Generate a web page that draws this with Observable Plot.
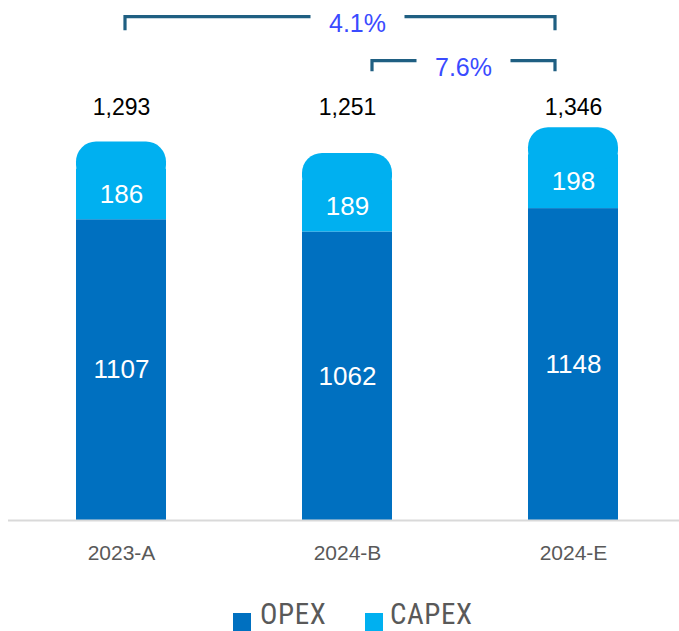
<!DOCTYPE html>
<html>
<head>
<meta charset="utf-8">
<script src="https://cdn.jsdelivr.net/npm/d3@7"></script>
<script src="https://cdn.jsdelivr.net/npm/@observablehq/plot@0.6"></script>
<style>
  html, body { margin: 0; padding: 0; background: #fff; }
  body { width: 679px; height: 631px; overflow: hidden; font-family: "Liberation Sans", Arial, sans-serif; }
  #legend { display: flex; justify-content: flex-start; align-items: flex-start; height: 32px; padding-left: 233px; box-sizing: border-box; width: 679px; }
  .item { display: flex; align-items: flex-start; }
  .item:first-child { width: 132px; }
  .lbl { display: inline-block; height: 32px; line-height: 32px; color: #595959; font-family: "Liberation Sans Narrow", "Arial Narrow", "Roboto Condensed", Roboto, sans-serif; font-size: 29px; letter-spacing: 0.6px; }
  .sw { width: 18px; height: 18px; margin-right: 9px; margin-top: 15px; }
  .item + .item .sw { margin-right: 7px; }
</style>
</head>
<body>
<div id="chart"></div>
<div id="legend"></div>
<script>
const categories = ["2023-A", "2024-B", "2024-E"];
const opexValues = [1107, 1062, 1148];
const capexValues = [186, 189, 198];
const totalLabels = ["1,293", "1,251", "1,346"];
const seriesNames = ["OPEX", "CAPEX"];
const seriesColors = ["#0070C0", "#00B0F0"];
const growthFrom = ["2023-A", "2024-B"];
const growthTo = ["2024-E", "2024-E"];
const growthLabels = ["4.1%", "7.6%"];

const rows = categories.flatMap((c, i) => [
  {category: c, series: seriesNames[0], y1: 0, y2: opexValues[i], value: opexValues[i]},
  {category: c, series: seriesNames[1], y1: opexValues[i], y2: opexValues[i] + capexValues[i], value: capexValues[i]}
]);
const totals = categories.map((c, i) => ({category: c, total: opexValues[i] + capexValues[i], label: totalLabels[i]}));
const growth = growthLabels.map((l, i) => ({from: growthFrom[i], to: growthTo[i], label: l}));

// annotation layout (pixel offsets / levels in y units)
const bracketTop = [1853, 1691];
const bracketBottom = [1803, 1652];
const leftOff = [4, 25];
const rightOff = [-18, -18];
const textOff = [17.5, 0];
const gapHalf = 47;

function bracketMark(index, scales) {
  const x = scales.x, y = scales.y;
  const bw = x.bandwidth();
  const cx = c => x(c) + bw / 2;
  const g = d3.create("svg:g");
  growth.forEach((b, i) => {
    const xl = cx(b.from) + leftOff[i];
    const xr = cx(b.to) + rightOff[i];
    const yt = y(bracketTop[i]);
    const yb = y(bracketBottom[i]);
    const tx = (xl + xr) / 2 + textOff[i];
    g.append("path")
      .attr("d", `M${xl},${yb}V${yt}H${tx - gapHalf}M${tx + gapHalf},${yt}H${xr}V${yb}`)
      .attr("fill", "none")
      .attr("stroke", "#1F5F82")
      .attr("stroke-width", 3.2)
      .attr("stroke-linejoin", "miter");
    g.append("text")
      .attr("x", tx)
      .attr("y", yt + 15)
      .attr("text-anchor", "middle")
      .attr("font-size", 25)
      .attr("font-family", "'Liberation Sans', Arial, sans-serif")
      .attr("fill", "#3A4BFF")
      .text(b.label);
  });
  return g.node();
}

const chart = Plot.plot({
  width: 679,
  height: 598,
  marginTop: 0,
  marginBottom: 78,
  marginLeft: 8,
  marginRight: 0,
  style: {fontFamily: "'Liberation Sans', Arial, sans-serif", background: "#fff"},
  x: {domain: categories, range: [8, 686], paddingInner: 0.6, paddingOuter: 0.3, label: null},
  y: {domain: [0, 1914], axis: null},
  color: {domain: seriesNames, range: seriesColors},
  marks: [
    Plot.barY(rows, {x: "category", y1: "y1", y2: "y2", fill: "series"}),
    Plot.barY(totals, {x: "category", y1: d => d.total - 60, y2: d => d.total + 100, fill: seriesColors[1], rx: 20, ry: 20}),
    Plot.ruleY([0], {stroke: "#D9D9D9", strokeWidth: 2}),
    Plot.text(rows, {x: "category", y: d => (d.y1 + d.y2) / 2, text: d => String(d.value), fill: "white", fontSize: 26}),
    Plot.text(totals, {x: "category", y: () => 1520, text: "label", fill: "#000", fontSize: 23}),
    Plot.axisX({tickSize: 0, tickPadding: 25, fontSize: 21, color: "#595959", label: null}),
    bracketMark
  ]
});
document.getElementById("chart").appendChild(chart);

const legend = d3.select("#legend");
seriesNames.forEach((s, i) => {
  const it = legend.append("div").attr("class", "item");
  it.append("div").attr("class", "sw").style("background", seriesColors[i]);
  it.append("span").attr("class", "lbl").text(s);
});
</script>
</body>
</html>
